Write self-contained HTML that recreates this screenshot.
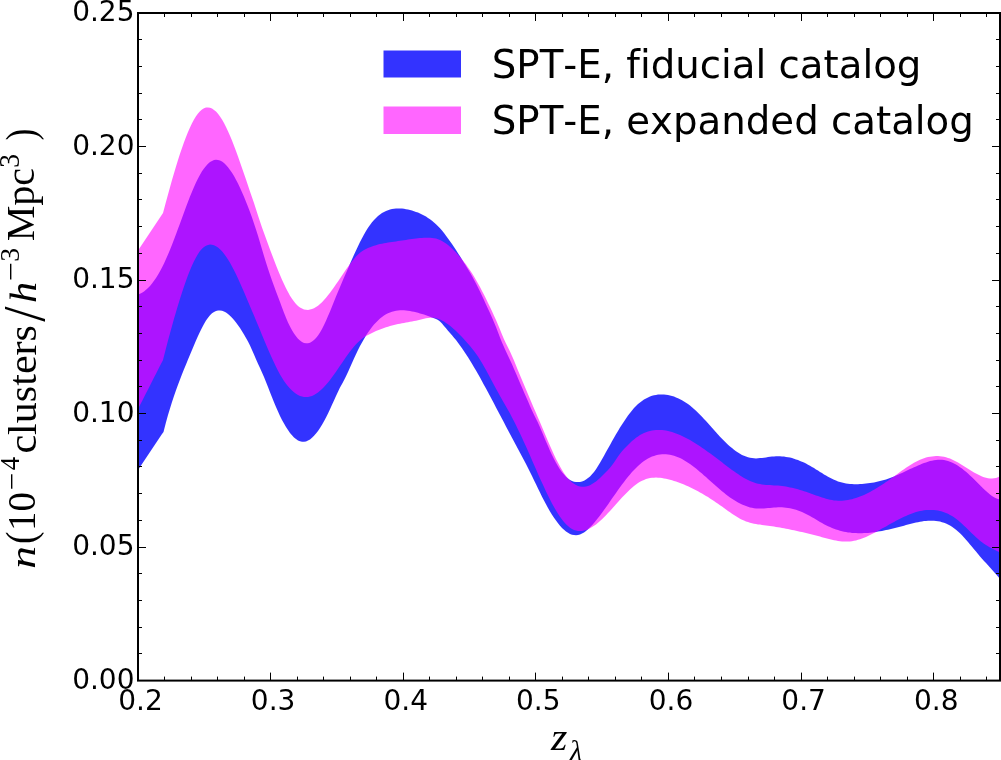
<!DOCTYPE html>
<html><head><meta charset="utf-8"><title>n(z)</title>
<style>
html,body{margin:0;padding:0;background:#fff;}
body{width:1001px;height:760px;overflow:hidden;}
svg{display:block;}
.tk text{font-family:"DejaVu Sans","Liberation Sans",sans-serif;font-size:28px;fill:#000;}
.lg text{font-family:"DejaVu Sans","Liberation Sans",sans-serif;font-size:38.7px;fill:#000;font-variant-ligatures:none;font-kerning:none;font-feature-settings:"liga" 0,"clig" 0,"kern" 0;}
.mt text{font-family:"Liberation Serif","DejaVu Serif",serif;fill:#000;}
</style></head><body>
<svg width="1001" height="760" viewBox="0 0 1001 760">
<defs><clipPath id="ax"><rect x="138.0" y="13.0" width="862.0" height="667.6"/></clipPath></defs>
<rect width="1001" height="760" fill="#fff"/>
<g clip-path="url(#ax)" shape-rendering="geometricPrecision">
<path d="M138.0,294.5 140.0,293.7 142.0,292.7 144.0,291.4 146.0,289.8 148.0,288.0 150.0,285.9 152.0,283.5 154.0,280.8 156.0,277.9 158.0,274.7 160.0,271.2 162.0,267.5 164.0,263.4 166.0,259.1 168.0,254.5 170.0,249.7 172.0,244.7 174.0,239.5 176.0,234.2 178.0,228.8 180.0,223.4 182.0,217.9 184.0,212.4 186.0,207.0 188.0,201.8 190.0,196.6 192.0,191.7 194.0,187.0 196.0,182.5 198.0,178.4 200.0,174.7 202.0,171.3 204.0,168.4 206.0,165.9 208.0,163.8 210.0,162.1 212.0,160.9 214.0,160.1 216.0,159.8 218.0,160.0 220.0,160.6 222.0,161.6 224.0,163.1 226.0,165.0 228.0,167.2 230.0,169.9 232.0,172.8 234.0,176.1 236.0,179.7 238.0,183.6 240.0,187.8 242.0,192.2 244.0,196.8 246.0,201.7 248.0,206.8 250.0,212.1 252.0,217.6 254.0,223.4 256.0,229.5 258.0,235.8 260.0,242.5 262.0,249.3 264.0,256.0 266.0,262.6 268.0,268.8 270.0,274.7 272.0,280.4 274.0,285.9 276.0,291.4 278.0,296.7 280.0,302.1 282.0,307.5 284.0,312.8 286.0,317.8 288.0,322.4 290.0,326.5 292.0,330.3 294.0,333.5 296.0,336.3 298.0,338.7 300.0,340.5 302.0,341.9 304.0,342.9 306.0,343.3 308.0,343.2 310.0,342.7 312.0,341.6 314.0,340.1 316.0,338.0 318.0,335.5 320.0,332.4 322.0,328.9 324.0,324.9 326.0,320.7 328.0,316.1 330.0,311.4 332.0,306.5 334.0,301.6 336.0,296.6 338.0,291.7 340.0,286.9 342.0,282.2 344.0,277.6 346.0,273.0 348.0,268.4 350.0,263.8 352.0,259.3 354.0,254.8 356.0,250.4 358.0,246.2 360.0,242.1 362.0,238.2 364.0,234.5 366.0,231.0 368.0,227.8 370.0,224.9 372.0,222.3 374.0,219.9 376.0,217.9 378.0,216.1 380.0,214.5 382.0,213.1 384.0,212.0 386.0,211.0 388.0,210.2 390.0,209.6 392.0,209.1 394.0,208.7 396.0,208.5 398.0,208.4 400.0,208.5 402.0,208.6 404.0,208.8 406.0,209.2 408.0,209.6 410.0,210.0 412.0,210.6 414.0,211.2 416.0,211.9 418.0,212.6 420.0,213.5 422.0,214.4 424.0,215.4 426.0,216.6 428.0,217.9 430.0,219.3 432.0,220.8 434.0,222.5 436.0,224.3 438.0,226.2 440.0,228.3 442.0,230.6 444.0,233.1 446.0,235.7 448.0,238.4 450.0,241.2 452.0,244.1 454.0,247.1 456.0,250.1 458.0,253.2 460.0,256.3 462.0,259.5 464.0,262.7 466.0,265.9 468.0,269.2 470.0,272.5 472.0,276.0 474.0,279.7 476.0,283.5 478.0,287.5 480.0,291.6 482.0,295.8 484.0,300.0 486.0,304.4 488.0,308.7 490.0,313.1 492.0,317.6 494.0,322.2 496.0,327.1 498.0,332.2 500.0,337.5 502.0,342.5 504.0,347.1 506.0,351.5 508.0,355.7 510.0,359.9 512.0,364.3 514.0,368.9 516.0,373.5 518.0,378.2 520.0,382.9 522.0,387.6 524.0,392.2 526.0,396.8 528.0,401.3 530.0,406.0 532.0,410.5 534.0,414.7 536.0,418.7 538.0,422.8 540.0,427.3 542.0,431.9 544.0,436.7 546.0,441.5 548.0,446.1 550.0,450.7 552.0,455.0 554.0,459.0 556.0,462.8 558.0,466.2 560.0,469.4 562.0,472.2 564.0,474.6 566.0,476.7 568.0,478.5 570.0,479.9 572.0,480.9 574.0,481.7 576.0,482.1 578.0,482.1 580.0,481.9 582.0,481.5 584.0,480.7 586.0,479.5 588.0,478.1 590.0,476.4 592.0,474.3 594.0,471.9 596.0,469.2 598.0,466.1 600.0,462.8 602.0,459.3 604.0,455.7 606.0,452.1 608.0,448.5 610.0,444.9 612.0,441.3 614.0,437.8 616.0,434.3 618.0,431.0 620.0,427.6 622.0,424.4 624.0,421.4 626.0,418.4 628.0,415.6 630.0,412.9 632.0,410.4 634.0,408.1 636.0,406.0 638.0,404.1 640.0,402.4 642.0,400.9 644.0,399.5 646.0,398.4 648.0,397.4 650.0,396.5 652.0,395.8 654.0,395.3 656.0,394.9 658.0,394.6 660.0,394.5 662.0,394.5 664.0,394.6 666.0,394.8 668.0,395.1 670.0,395.5 672.0,396.0 674.0,396.6 676.0,397.4 678.0,398.2 680.0,399.2 682.0,400.2 684.0,401.4 686.0,402.7 688.0,404.1 690.0,405.6 692.0,407.2 694.0,408.9 696.0,410.7 698.0,412.7 700.0,414.7 702.0,416.8 704.0,418.9 706.0,421.1 708.0,423.3 710.0,425.6 712.0,427.8 714.0,430.1 716.0,432.3 718.0,434.5 720.0,436.7 722.0,438.8 724.0,440.8 726.0,442.8 728.0,444.7 730.0,446.4 732.0,448.1 734.0,449.7 736.0,451.2 738.0,452.5 740.0,453.8 742.0,454.9 744.0,455.8 746.0,456.6 748.0,457.3 750.0,457.8 752.0,458.1 754.0,458.3 756.0,458.4 758.0,458.3 760.0,458.1 762.0,457.9 764.0,457.7 766.0,457.4 768.0,457.1 770.0,456.8 772.0,456.6 774.0,456.4 776.0,456.2 778.0,456.2 780.0,456.2 782.0,456.4 784.0,456.6 786.0,456.9 788.0,457.2 790.0,457.6 792.0,458.1 794.0,458.7 796.0,459.4 798.0,460.1 800.0,460.9 802.0,461.7 804.0,462.6 806.0,463.6 808.0,464.7 810.0,465.8 812.0,466.9 814.0,468.1 816.0,469.4 818.0,470.6 820.0,471.9 822.0,473.1 824.0,474.4 826.0,475.6 828.0,476.7 830.0,477.8 832.0,478.8 834.0,479.8 836.0,480.6 838.0,481.4 840.0,482.0 842.0,482.6 844.0,483.0 846.0,483.4 848.0,483.7 850.0,483.9 852.0,484.1 854.0,484.2 856.0,484.2 858.0,484.2 860.0,484.1 862.0,483.9 864.0,483.8 866.0,483.6 868.0,483.3 870.0,483.1 872.0,482.7 874.0,482.4 876.0,482.0 878.0,481.6 880.0,481.1 882.0,480.6 884.0,480.0 886.0,479.4 888.0,478.7 890.0,478.0 892.0,477.2 894.0,476.4 896.0,475.6 898.0,474.7 900.0,473.8 902.0,472.9 904.0,472.0 906.0,471.0 908.0,470.1 910.0,469.1 912.0,468.2 914.0,467.3 916.0,466.4 918.0,465.5 920.0,464.7 922.0,463.8 924.0,463.1 926.0,462.4 928.0,461.7 930.0,461.1 932.0,460.7 934.0,460.3 936.0,460.0 938.0,459.8 940.0,459.7 942.0,459.8 944.0,460.0 946.0,460.4 948.0,461.0 950.0,461.7 952.0,462.5 954.0,463.5 956.0,464.6 958.0,465.8 960.0,467.2 962.0,468.6 964.0,470.2 966.0,471.8 968.0,473.6 970.0,475.4 972.0,477.2 974.0,479.2 976.0,481.2 978.0,483.2 980.0,485.2 982.0,487.2 984.0,489.2 986.0,491.1 988.0,492.8 990.0,494.5 992.0,495.9 994.0,497.2 996.0,498.2 998.0,499.0 1000.0,499.5 1002.0,500.0 L1002.0,581.4 1000.0,578.9 998.0,576.5 996.0,574.2 994.0,571.9 992.0,569.7 990.0,567.5 988.0,565.3 986.0,563.1 984.0,560.9 982.0,558.7 980.0,556.4 978.0,554.0 976.0,551.6 974.0,549.2 972.0,546.8 970.0,544.4 968.0,542.0 966.0,539.7 964.0,537.5 962.0,535.3 960.0,533.3 958.0,531.4 956.0,529.7 954.0,528.2 952.0,526.8 950.0,525.6 948.0,524.5 946.0,523.6 944.0,522.8 942.0,522.2 940.0,521.6 938.0,521.2 936.0,520.9 934.0,520.7 932.0,520.7 930.0,520.7 928.0,520.7 926.0,520.9 924.0,521.1 922.0,521.4 920.0,521.8 918.0,522.2 916.0,522.6 914.0,523.1 912.0,523.6 910.0,524.1 908.0,524.6 906.0,525.1 904.0,525.7 902.0,526.2 900.0,526.7 898.0,527.2 896.0,527.7 894.0,528.2 892.0,528.7 890.0,529.2 888.0,529.7 886.0,530.1 884.0,530.5 882.0,530.9 880.0,531.3 878.0,531.6 876.0,531.9 874.0,532.2 872.0,532.5 870.0,532.7 868.0,532.9 866.0,533.0 864.0,533.1 862.0,533.2 860.0,533.2 858.0,533.2 856.0,533.1 854.0,533.0 852.0,532.9 850.0,532.6 848.0,532.4 846.0,532.0 844.0,531.7 842.0,531.2 840.0,530.7 838.0,530.1 836.0,529.5 834.0,528.8 832.0,528.0 830.0,527.1 828.0,526.2 826.0,525.2 824.0,524.2 822.0,523.0 820.0,521.9 818.0,520.7 816.0,519.5 814.0,518.3 812.0,517.2 810.0,516.0 808.0,514.9 806.0,513.9 804.0,512.9 802.0,512.0 800.0,511.2 798.0,510.5 796.0,509.8 794.0,509.2 792.0,508.7 790.0,508.3 788.0,507.9 786.0,507.7 784.0,507.5 782.0,507.3 780.0,507.3 778.0,507.3 776.0,507.4 774.0,507.6 772.0,507.8 770.0,507.9 768.0,508.1 766.0,508.3 764.0,508.5 762.0,508.6 760.0,508.6 758.0,508.6 756.0,508.4 754.0,508.2 752.0,507.8 750.0,507.4 748.0,506.8 746.0,506.1 744.0,505.3 742.0,504.5 740.0,503.5 738.0,502.4 736.0,501.3 734.0,500.1 732.0,498.8 730.0,497.4 728.0,495.9 726.0,494.4 724.0,492.8 722.0,491.2 720.0,489.5 718.0,487.8 716.0,486.0 714.0,484.3 712.0,482.5 710.0,480.7 708.0,478.9 706.0,477.1 704.0,475.4 702.0,473.6 700.0,471.9 698.0,470.2 696.0,468.6 694.0,467.0 692.0,465.5 690.0,464.1 688.0,462.7 686.0,461.4 684.0,460.2 682.0,459.1 680.0,458.1 678.0,457.2 676.0,456.4 674.0,455.7 672.0,455.2 670.0,454.8 668.0,454.5 666.0,454.3 664.0,454.2 662.0,454.3 660.0,454.5 658.0,454.8 656.0,455.3 654.0,455.9 652.0,456.6 650.0,457.5 648.0,458.6 646.0,459.7 644.0,461.1 642.0,462.5 640.0,464.2 638.0,466.0 636.0,467.9 634.0,469.9 632.0,472.1 630.0,474.4 628.0,476.8 626.0,479.3 624.0,481.9 622.0,484.6 620.0,487.3 618.0,490.1 616.0,492.9 614.0,495.7 612.0,498.6 610.0,501.5 608.0,504.4 606.0,507.2 604.0,510.0 602.0,512.8 600.0,515.5 598.0,518.0 596.0,520.5 594.0,522.9 592.0,525.2 590.0,527.2 588.0,529.2 586.0,530.9 584.0,532.4 582.0,533.6 580.0,534.5 578.0,535.0 576.0,535.2 574.0,535.1 572.0,534.7 570.0,533.9 568.0,532.8 566.0,531.5 564.0,529.8 562.0,527.9 560.0,525.7 558.0,523.3 556.0,520.6 554.0,517.8 552.0,514.7 550.0,511.4 548.0,508.0 546.0,504.3 544.0,500.6 542.0,496.7 540.0,492.6 538.0,488.5 536.0,484.3 534.0,480.2 532.0,476.0 530.0,472.0 528.0,468.0 526.0,464.1 524.0,460.3 522.0,456.6 520.0,452.8 518.0,449.1 516.0,445.3 514.0,441.6 512.0,437.8 510.0,434.0 508.0,430.2 506.0,426.4 504.0,422.6 502.0,418.8 500.0,415.0 498.0,411.2 496.0,407.4 494.0,403.6 492.0,399.8 490.0,396.0 488.0,392.3 486.0,388.6 484.0,384.9 482.0,381.2 480.0,377.6 478.0,374.1 476.0,370.6 474.0,367.2 472.0,363.8 470.0,360.5 468.0,357.3 466.0,354.2 464.0,351.2 462.0,348.3 460.0,345.4 458.0,342.7 456.0,340.1 454.0,337.7 452.0,335.3 450.0,333.0 448.0,330.7 446.0,328.3 444.0,325.9 442.0,323.6 440.0,321.6 438.0,320.1 436.0,319.0 434.0,318.2 432.0,317.4 430.0,316.7 428.0,316.0 426.0,315.3 424.0,314.6 422.0,314.0 420.0,313.4 418.0,312.8 416.0,312.3 414.0,311.8 412.0,311.4 410.0,311.0 408.0,310.7 406.0,310.4 404.0,310.3 402.0,310.2 400.0,310.3 398.0,310.5 396.0,310.7 394.0,311.2 392.0,311.7 390.0,312.4 388.0,313.3 386.0,314.3 384.0,315.5 382.0,316.9 380.0,318.5 378.0,320.4 376.0,322.4 374.0,324.6 372.0,327.1 370.0,329.7 368.0,332.6 366.0,335.6 364.0,338.9 362.0,342.4 360.0,346.1 358.0,350.1 356.0,354.2 354.0,358.5 352.0,363.0 350.0,367.6 348.0,372.0 346.0,376.3 344.0,380.2 342.0,383.9 340.0,387.6 338.0,391.7 336.0,396.0 334.0,400.4 332.0,404.8 330.0,409.2 328.0,413.4 326.0,417.4 324.0,421.2 322.0,424.7 320.0,427.9 318.0,430.9 316.0,433.5 314.0,435.8 312.0,437.8 310.0,439.4 308.0,440.6 306.0,441.4 304.0,441.8 302.0,441.8 300.0,441.3 298.0,440.4 296.0,439.1 294.0,437.4 292.0,435.3 290.0,432.9 288.0,430.1 286.0,427.0 284.0,423.6 282.0,419.9 280.0,415.9 278.0,411.6 276.0,407.0 274.0,402.3 272.0,397.3 270.0,392.3 268.0,387.1 266.0,382.0 264.0,377.0 262.0,372.5 260.0,368.1 258.0,363.7 256.0,359.2 254.0,354.5 252.0,349.9 250.0,345.6 248.0,341.6 246.0,337.9 244.0,334.4 242.0,331.2 240.0,328.1 238.0,325.3 236.0,322.5 234.0,320.1 232.0,317.8 230.0,315.8 228.0,314.0 226.0,312.6 224.0,311.5 222.0,310.8 220.0,310.4 218.0,310.5 216.0,311.0 214.0,311.9 212.0,313.3 210.0,315.3 208.0,317.7 206.0,320.6 204.0,324.0 202.0,327.7 200.0,331.7 198.0,336.0 196.0,340.5 194.0,345.2 192.0,350.0 190.0,354.7 188.0,359.5 186.0,364.4 184.0,369.2 182.0,374.2 180.0,379.4 178.0,384.7 176.0,390.2 174.0,395.9 172.0,402.0 170.0,408.4 168.0,415.1 166.0,422.3 164.0,429.9 163.5,431.9 162.0,434.1 160.0,437.1 158.0,440.1 156.0,443.1 154.0,446.1 152.0,449.1 150.0,452.1 148.0,455.0 146.0,458.0 144.0,461.0 142.0,464.0 140.0,467.0 138.0,470.0Z" fill="#0000ff" fill-opacity="0.8"/>
<path d="M138.0,250.5 140.0,247.5 142.0,244.5 144.0,241.5 146.0,238.5 148.0,235.5 150.0,232.5 152.0,229.5 154.0,226.5 156.0,223.5 158.0,220.5 160.0,217.5 162.0,214.4 163.0,212.9 164.0,209.2 166.0,201.7 168.0,194.4 170.0,187.2 172.0,180.1 174.0,173.2 176.0,166.5 178.0,160.0 180.0,153.8 182.0,147.9 184.0,142.2 186.0,136.9 188.0,132.0 190.0,127.4 192.0,123.3 194.0,119.6 196.0,116.3 198.0,113.5 200.0,111.3 202.0,109.5 204.0,108.3 206.0,107.6 208.0,107.5 210.0,107.8 212.0,108.6 214.0,109.9 216.0,111.6 218.0,113.8 220.0,116.5 222.0,119.6 224.0,123.1 226.0,127.0 228.0,131.3 230.0,135.8 232.0,140.6 234.0,145.7 236.0,151.1 238.0,156.5 240.0,162.2 242.0,167.9 244.0,173.7 246.0,179.5 248.0,185.4 250.0,191.4 252.0,197.2 254.0,203.1 256.0,209.2 258.0,215.4 260.0,221.5 262.0,227.4 264.0,233.1 266.0,238.6 268.0,244.1 270.0,249.5 272.0,254.8 274.0,260.1 276.0,265.2 278.0,270.3 280.0,275.1 282.0,279.7 284.0,284.1 286.0,288.3 288.0,292.1 290.0,295.7 292.0,298.8 294.0,301.6 296.0,304.0 298.0,305.9 300.0,307.5 302.0,308.6 304.0,309.4 306.0,309.8 308.0,309.9 310.0,309.6 312.0,309.1 314.0,308.2 316.0,307.1 318.0,305.7 320.0,304.0 322.0,302.2 324.0,300.1 326.0,297.8 328.0,295.3 330.0,292.7 332.0,290.0 334.0,287.2 336.0,284.3 338.0,281.4 340.0,278.4 342.0,275.4 344.0,272.5 346.0,269.5 348.0,266.7 350.0,264.0 352.0,261.3 354.0,258.9 356.0,256.6 358.0,254.6 360.0,252.8 362.0,251.3 364.0,250.0 366.0,248.9 368.0,248.0 370.0,247.2 372.0,246.4 374.0,245.8 376.0,245.2 378.0,244.6 380.0,244.1 382.0,243.7 384.0,243.3 386.0,242.9 388.0,242.6 390.0,242.3 392.0,242.0 394.0,241.7 396.0,241.4 398.0,241.1 400.0,240.8 402.0,240.5 404.0,240.2 406.0,239.9 408.0,239.6 410.0,239.3 412.0,239.0 414.0,238.8 416.0,238.5 418.0,238.3 420.0,238.1 422.0,238.0 424.0,237.8 426.0,237.8 428.0,237.7 430.0,237.8 432.0,237.9 434.0,238.2 436.0,238.6 438.0,239.2 440.0,240.0 442.0,241.0 444.0,242.2 446.0,243.6 448.0,245.1 450.0,246.8 452.0,248.6 454.0,250.6 456.0,252.6 458.0,254.8 460.0,257.1 462.0,259.5 464.0,262.0 466.0,264.6 468.0,267.4 470.0,270.3 472.0,273.3 474.0,276.5 476.0,279.9 478.0,283.4 480.0,287.1 482.0,290.9 484.0,294.8 486.0,298.8 488.0,302.9 490.0,307.1 492.0,311.3 494.0,315.7 496.0,320.1 498.0,324.7 500.0,329.5 502.0,334.4 504.0,339.2 506.0,343.5 508.0,347.6 510.0,351.6 512.0,355.9 514.0,360.5 516.0,365.4 518.0,370.4 520.0,375.3 522.0,380.1 524.0,384.8 526.0,389.6 528.0,394.3 530.0,399.0 532.0,403.7 534.0,408.4 536.0,413.0 538.0,417.7 540.0,422.3 542.0,427.0 544.0,431.8 546.0,436.5 548.0,441.2 550.0,445.8 552.0,450.3 554.0,454.7 556.0,458.9 558.0,462.8 560.0,466.6 562.0,470.0 564.0,473.2 566.0,476.0 568.0,478.4 570.0,480.6 572.0,482.4 574.0,483.8 576.0,485.0 578.0,485.9 580.0,486.5 582.0,486.8 584.0,486.8 586.0,486.5 588.0,486.0 590.0,485.2 592.0,484.1 594.0,482.8 596.0,481.4 598.0,479.7 600.0,478.0 602.0,476.1 604.0,474.1 606.0,472.1 608.0,469.9 610.0,467.7 612.0,465.2 614.0,462.4 616.0,459.5 618.0,456.5 620.0,453.7 622.0,451.2 624.0,449.0 626.0,446.9 628.0,444.9 630.0,442.9 632.0,441.1 634.0,439.4 636.0,437.8 638.0,436.4 640.0,435.1 642.0,434.0 644.0,433.0 646.0,432.2 648.0,431.5 650.0,430.9 652.0,430.5 654.0,430.2 656.0,430.0 658.0,429.9 660.0,429.9 662.0,430.1 664.0,430.3 666.0,430.6 668.0,431.1 670.0,431.5 672.0,432.1 674.0,432.8 676.0,433.5 678.0,434.2 680.0,435.1 682.0,436.0 684.0,436.9 686.0,437.9 688.0,439.0 690.0,440.1 692.0,441.3 694.0,442.5 696.0,443.7 698.0,445.0 700.0,446.3 702.0,447.7 704.0,449.0 706.0,450.4 708.0,451.9 710.0,453.3 712.0,454.8 714.0,456.3 716.0,457.8 718.0,459.3 720.0,460.8 722.0,462.3 724.0,463.9 726.0,465.4 728.0,466.9 730.0,468.4 732.0,469.9 734.0,471.3 736.0,472.7 738.0,474.1 740.0,475.4 742.0,476.7 744.0,477.9 746.0,479.0 748.0,480.0 750.0,481.0 752.0,481.8 754.0,482.5 756.0,483.2 758.0,483.7 760.0,484.1 762.0,484.4 764.0,484.7 766.0,484.9 768.0,485.0 770.0,485.1 772.0,485.3 774.0,485.4 776.0,485.5 778.0,485.6 780.0,485.8 782.0,486.0 784.0,486.3 786.0,486.6 788.0,487.0 790.0,487.4 792.0,487.8 794.0,488.3 796.0,488.8 798.0,489.3 800.0,489.9 802.0,490.5 804.0,491.2 806.0,491.8 808.0,492.5 810.0,493.2 812.0,493.9 814.0,494.7 816.0,495.4 818.0,496.1 820.0,496.8 822.0,497.5 824.0,498.1 826.0,498.7 828.0,499.2 830.0,499.7 832.0,500.1 834.0,500.4 836.0,500.6 838.0,500.7 840.0,500.8 842.0,500.7 844.0,500.6 846.0,500.3 848.0,500.0 850.0,499.6 852.0,499.2 854.0,498.6 856.0,498.0 858.0,497.3 860.0,496.6 862.0,495.8 864.0,494.9 866.0,493.9 868.0,493.0 870.0,491.9 872.0,490.8 874.0,489.7 876.0,488.5 878.0,487.3 880.0,486.0 882.0,484.8 884.0,483.4 886.0,482.1 888.0,480.7 890.0,479.3 892.0,477.8 894.0,476.4 896.0,474.9 898.0,473.5 900.0,472.0 902.0,470.6 904.0,469.2 906.0,467.8 908.0,466.5 910.0,465.2 912.0,464.0 914.0,462.8 916.0,461.7 918.0,460.7 920.0,459.8 922.0,459.0 924.0,458.2 926.0,457.6 928.0,457.1 930.0,456.7 932.0,456.4 934.0,456.2 936.0,456.1 938.0,456.1 940.0,456.2 942.0,456.5 944.0,456.8 946.0,457.3 948.0,457.9 950.0,458.6 952.0,459.4 954.0,460.4 956.0,461.4 958.0,462.5 960.0,463.7 962.0,464.9 964.0,466.2 966.0,467.5 968.0,468.8 970.0,470.0 972.0,471.3 974.0,472.5 976.0,473.6 978.0,474.6 980.0,475.6 982.0,476.4 984.0,477.2 986.0,477.7 988.0,478.2 990.0,478.4 992.0,478.4 994.0,478.3 996.0,477.9 998.0,477.2 1000.0,476.3 1002.0,475.4 L1002.0,553.4 1000.0,552.4 998.0,551.5 996.0,550.5 994.0,549.5 992.0,548.5 990.0,547.4 988.0,546.3 986.0,545.0 984.0,543.7 982.0,542.2 980.0,540.7 978.0,539.0 976.0,537.2 974.0,535.3 972.0,533.4 970.0,531.5 968.0,529.5 966.0,527.6 964.0,525.7 962.0,523.8 960.0,522.0 958.0,520.3 956.0,518.7 954.0,517.3 952.0,516.0 950.0,514.9 948.0,513.8 946.0,512.9 944.0,512.2 942.0,511.5 940.0,511.0 938.0,510.5 936.0,510.2 934.0,510.0 932.0,509.9 930.0,509.9 928.0,509.9 926.0,510.1 924.0,510.3 922.0,510.7 920.0,511.1 918.0,511.6 916.0,512.1 914.0,512.8 912.0,513.5 910.0,514.2 908.0,515.0 906.0,515.9 904.0,516.8 902.0,517.7 900.0,518.7 898.0,519.8 896.0,520.8 894.0,521.9 892.0,523.0 890.0,524.1 888.0,525.2 886.0,526.4 884.0,527.5 882.0,528.6 880.0,529.7 878.0,530.8 876.0,531.9 874.0,533.0 872.0,534.0 870.0,535.0 868.0,535.9 866.0,536.9 864.0,537.7 862.0,538.5 860.0,539.2 858.0,539.8 856.0,540.4 854.0,540.8 852.0,541.2 850.0,541.4 848.0,541.6 846.0,541.6 844.0,541.6 842.0,541.4 840.0,541.2 838.0,540.9 836.0,540.6 834.0,540.2 832.0,539.8 830.0,539.3 828.0,538.8 826.0,538.3 824.0,537.7 822.0,537.2 820.0,536.6 818.0,536.1 816.0,535.6 814.0,535.1 812.0,534.5 810.0,534.0 808.0,533.6 806.0,533.1 804.0,532.6 802.0,532.1 800.0,531.7 798.0,531.2 796.0,530.8 794.0,530.3 792.0,529.9 790.0,529.5 788.0,529.1 786.0,528.7 784.0,528.3 782.0,528.0 780.0,527.6 778.0,527.3 776.0,526.9 774.0,526.6 772.0,526.3 770.0,526.0 768.0,525.7 766.0,525.4 764.0,525.2 762.0,524.9 760.0,524.6 758.0,524.4 756.0,524.0 754.0,523.7 752.0,523.2 750.0,522.7 748.0,522.1 746.0,521.4 744.0,520.6 742.0,519.7 740.0,518.7 738.0,517.5 736.0,516.3 734.0,515.1 732.0,513.7 730.0,512.3 728.0,510.9 726.0,509.5 724.0,508.0 722.0,506.6 720.0,505.2 718.0,503.8 716.0,502.4 714.0,501.0 712.0,499.7 710.0,498.4 708.0,497.1 706.0,495.9 704.0,494.7 702.0,493.5 700.0,492.4 698.0,491.3 696.0,490.2 694.0,489.2 692.0,488.2 690.0,487.2 688.0,486.3 686.0,485.4 684.0,484.6 682.0,483.7 680.0,483.0 678.0,482.2 676.0,481.6 674.0,480.9 672.0,480.3 670.0,479.8 668.0,479.2 666.0,478.8 664.0,478.4 662.0,478.1 660.0,477.8 658.0,477.7 656.0,477.6 654.0,477.7 652.0,477.8 650.0,478.1 648.0,478.6 646.0,479.1 644.0,479.9 642.0,480.8 640.0,481.8 638.0,483.1 636.0,484.5 634.0,486.0 632.0,487.7 630.0,489.5 628.0,491.4 626.0,493.4 624.0,495.5 622.0,497.6 620.0,499.8 618.0,502.1 616.0,504.3 614.0,506.5 612.0,508.7 610.0,510.9 608.0,513.1 606.0,515.2 604.0,517.2 602.0,519.2 600.0,521.0 598.0,522.7 596.0,524.4 594.0,525.8 592.0,527.1 590.0,528.3 588.0,529.3 586.0,530.1 584.0,530.6 582.0,531.0 580.0,531.1 578.0,531.0 576.0,530.6 574.0,529.9 572.0,528.9 570.0,527.7 568.0,526.1 566.0,524.2 564.0,522.0 562.0,519.5 560.0,516.8 558.0,513.7 556.0,510.5 554.0,507.0 552.0,503.4 550.0,499.5 548.0,495.5 546.0,491.4 544.0,487.1 542.0,482.8 540.0,478.4 538.0,473.9 536.0,469.3 534.0,464.7 532.0,460.2 530.0,455.6 528.0,451.1 526.0,446.6 524.0,442.2 522.0,437.8 520.0,433.6 518.0,429.4 516.0,425.3 514.0,421.3 512.0,417.4 510.0,413.6 508.0,409.9 506.0,406.4 504.0,402.9 502.0,399.4 500.0,395.9 498.0,392.3 496.0,388.7 494.0,385.0 492.0,381.3 490.0,377.5 488.0,373.8 486.0,370.1 484.0,366.5 482.0,363.0 480.0,359.7 478.0,356.6 476.0,353.8 474.0,351.1 472.0,348.5 470.0,346.1 468.0,343.7 466.0,341.5 464.0,339.3 462.0,337.1 460.0,335.0 458.0,333.0 456.0,331.1 454.0,329.2 452.0,327.4 450.0,325.8 448.0,324.3 446.0,322.9 444.0,321.6 442.0,320.5 440.0,319.5 438.0,318.8 436.0,318.2 434.0,317.8 432.0,317.7 430.0,317.7 428.0,317.9 426.0,318.3 424.0,318.8 422.0,319.3 420.0,319.8 418.0,320.2 416.0,320.7 414.0,321.1 412.0,321.5 410.0,321.8 408.0,322.2 406.0,322.6 404.0,322.9 402.0,323.3 400.0,323.7 398.0,324.1 396.0,324.6 394.0,325.0 392.0,325.5 390.0,326.1 388.0,326.7 386.0,327.3 384.0,328.0 382.0,328.7 380.0,329.5 378.0,330.3 376.0,331.1 374.0,332.0 372.0,332.9 370.0,333.9 368.0,335.0 366.0,336.1 364.0,337.3 362.0,338.7 360.0,340.4 358.0,342.2 356.0,344.3 354.0,346.5 352.0,349.0 350.0,351.5 348.0,354.2 346.0,357.0 344.0,359.9 342.0,362.9 340.0,365.8 338.0,368.7 336.0,371.7 334.0,374.5 332.0,377.2 330.0,379.9 328.0,382.4 326.0,384.7 324.0,386.9 322.0,388.9 320.0,390.8 318.0,392.4 316.0,393.8 314.0,394.9 312.0,395.9 310.0,396.5 308.0,396.9 306.0,397.0 304.0,396.9 302.0,396.5 300.0,395.9 298.0,394.9 296.0,393.8 294.0,392.3 292.0,390.6 290.0,388.6 288.0,386.3 286.0,383.7 284.0,380.9 282.0,377.8 280.0,374.4 278.0,370.7 276.0,366.8 274.0,362.6 272.0,358.3 270.0,353.8 268.0,349.2 266.0,344.5 264.0,339.7 262.0,334.9 260.0,330.0 258.0,325.2 256.0,320.4 254.0,315.6 252.0,310.9 250.0,306.2 248.0,301.5 246.0,296.8 244.0,292.1 242.0,287.4 240.0,282.9 238.0,278.5 236.0,274.2 234.0,270.2 232.0,266.4 230.0,262.8 228.0,259.5 226.0,256.5 224.0,253.7 222.0,251.3 220.0,249.2 218.0,247.5 216.0,246.2 214.0,245.2 212.0,244.7 210.0,244.6 208.0,244.9 206.0,245.7 204.0,247.0 202.0,248.8 200.0,251.1 198.0,254.0 196.0,257.4 194.0,261.2 192.0,265.5 190.0,270.2 188.0,275.3 186.0,280.7 184.0,286.4 182.0,292.5 180.0,298.7 178.0,305.2 176.0,311.9 174.0,318.8 172.0,325.9 170.0,333.2 168.0,340.6 166.0,348.2 164.0,356.0 163.0,359.9 162.0,361.9 160.0,365.8 158.0,369.8 156.0,373.7 154.0,377.6 152.0,381.5 150.0,385.5 148.0,389.4 146.0,393.3 144.0,397.2 142.0,401.2 140.0,405.1 138.0,409.0Z" fill="#ff00ff" fill-opacity="0.6"/>
</g>
<path d="M138.50,680.6v-8M138.50,13.0v8M164.50,680.6v-4M164.50,13.0v4M191.50,680.6v-4M191.50,13.0v4M217.50,680.6v-4M217.50,13.0v4M244.50,680.6v-4M244.50,13.0v4M270.50,680.6v-8M270.50,13.0v8M297.50,680.6v-4M297.50,13.0v4M323.50,680.6v-4M323.50,13.0v4M350.50,680.6v-4M350.50,13.0v4M376.50,680.6v-4M376.50,13.0v4M403.50,680.6v-8M403.50,13.0v8M429.50,680.6v-4M429.50,13.0v4M456.50,680.6v-4M456.50,13.0v4M482.50,680.6v-4M482.50,13.0v4M509.50,680.6v-4M509.50,13.0v4M535.50,680.6v-8M535.50,13.0v8M562.50,680.6v-4M562.50,13.0v4M588.50,680.6v-4M588.50,13.0v4M615.50,680.6v-4M615.50,13.0v4M641.50,680.6v-4M641.50,13.0v4M668.50,680.6v-8M668.50,13.0v8M694.50,680.6v-4M694.50,13.0v4M721.50,680.6v-4M721.50,13.0v4M748.50,680.6v-4M748.50,13.0v4M774.50,680.6v-4M774.50,13.0v4M801.50,680.6v-8M801.50,13.0v8M827.50,680.6v-4M827.50,13.0v4M854.50,680.6v-4M854.50,13.0v4M880.50,680.6v-4M880.50,13.0v4M907.50,680.6v-4M907.50,13.0v4M933.50,680.6v-8M933.50,13.0v8M960.50,680.6v-4M960.50,13.0v4M986.50,680.6v-4M986.50,13.0v4M138.0,680.50h8M1000.0,680.50h-8M138.0,653.50h4M1000.0,653.50h-4M138.0,627.50h4M1000.0,627.50h-4M138.0,600.50h4M1000.0,600.50h-4M138.0,573.50h4M1000.0,573.50h-4M138.0,547.50h8M1000.0,547.50h-8M138.0,520.50h4M1000.0,520.50h-4M138.0,493.50h4M1000.0,493.50h-4M138.0,466.50h4M1000.0,466.50h-4M138.0,440.50h4M1000.0,440.50h-4M138.0,413.50h8M1000.0,413.50h-8M138.0,386.50h4M1000.0,386.50h-4M138.0,360.50h4M1000.0,360.50h-4M138.0,333.50h4M1000.0,333.50h-4M138.0,306.50h4M1000.0,306.50h-4M138.0,280.50h8M1000.0,280.50h-8M138.0,253.50h4M1000.0,253.50h-4M138.0,226.50h4M1000.0,226.50h-4M138.0,199.50h4M1000.0,199.50h-4M138.0,173.50h4M1000.0,173.50h-4M138.0,146.50h8M1000.0,146.50h-8M138.0,119.50h4M1000.0,119.50h-4M138.0,93.50h4M1000.0,93.50h-4M138.0,66.50h4M1000.0,66.50h-4M138.0,39.50h4M1000.0,39.50h-4M138.0,13.50h8M1000.0,13.50h-8" stroke="#000" stroke-width="1" fill="none"/>
<rect x="138.0" y="13.0" width="862.0" height="667.6" fill="none" stroke="#000" stroke-width="2"/>
<g class="tk"><text x="140.5" y="710" text-anchor="middle">0.2</text><text x="273.1" y="710" text-anchor="middle">0.3</text><text x="405.7" y="710" text-anchor="middle">0.4</text><text x="538.3" y="710" text-anchor="middle">0.5</text><text x="671.0" y="710" text-anchor="middle">0.6</text><text x="803.6" y="710" text-anchor="middle">0.7</text><text x="936.2" y="710" text-anchor="middle">0.8</text><text x="134.5" y="688.7" text-anchor="end">0.00</text><text x="134.5" y="555.2" text-anchor="end">0.05</text><text x="134.5" y="421.7" text-anchor="end">0.10</text><text x="134.5" y="288.1" text-anchor="end">0.15</text><text x="134.5" y="154.6" text-anchor="end">0.20</text><text x="134.5" y="21.1" text-anchor="end">0.25</text></g>
<g class="lg">
<rect x="383.5" y="50.5" width="77.5" height="27" fill="#0000ff" fill-opacity="0.8"/>
<rect x="383.5" y="106.5" width="77.5" height="27.5" fill="#ff00ff" fill-opacity="0.6"/>
<text x="491.8" y="78">SPT-E, fiducial catalog</text>
<text x="491.8" y="134.3">SPT-E, expanded catalog</text>
</g>
<g class="mt">
<text transform="rotate(-90) translate(-568.64,35.40) scale(1.139,0.880)" style="font-size:40px;font-style:italic;">n</text>
<text transform="rotate(-90) translate(-543.95,35.12) scale(0.945,1.065)" style="font-size:40px;">(</text>
<text transform="rotate(-90) translate(-530.92,35.40) scale(0.972,1.008)" style="font-size:40px;">10</text>
<text transform="rotate(-90) translate(-490.11,20.80) scale(1.107,1.000)" style="font-size:28px;">−</text>
<text transform="rotate(-90) translate(-470.30,19.00) scale(0.950,0.983)" style="font-size:28px;">4</text>
<text transform="rotate(-90) translate(-453.55,35.60) scale(1.052,0.989)" style="font-size:40px;">clusters</text>
<text transform="rotate(-90) translate(-321.70,44.00) scale(1.373,1.465)" style="font-size:40px;">/</text>
<text transform="rotate(-90) translate(-303.06,35.50) scale(1.056,0.939)" style="font-size:40px;font-style:italic;">h</text>
<text transform="rotate(-90) translate(-280.92,20.30) scale(1.221,1.000)" style="font-size:28px;">−</text>
<text transform="rotate(-90) translate(-261.69,18.70) scale(0.992,1.000)" style="font-size:28px;">3</text>
<text transform="rotate(-90) translate(-241.30,34.01) scale(1.000,0.977)" style="font-size:40px;">Mpc</text>
<text transform="rotate(-90) translate(-167.68,19.00) scale(0.983,1.017)" style="font-size:28px;">3</text>
<text transform="rotate(-90) translate(-140.59,35.26) scale(0.891,1.049)" style="font-size:40px;">)</text>
<text transform="translate(551.05,750.20) scale(1.050,0.947)" style="font-size:40px;font-style:italic;">z</text>
<text transform="translate(569.47,760.60) scale(1.069,1.053)" style="font-size:28px;font-style:italic;">λ</text>
</g>
</svg>
</body></html>
